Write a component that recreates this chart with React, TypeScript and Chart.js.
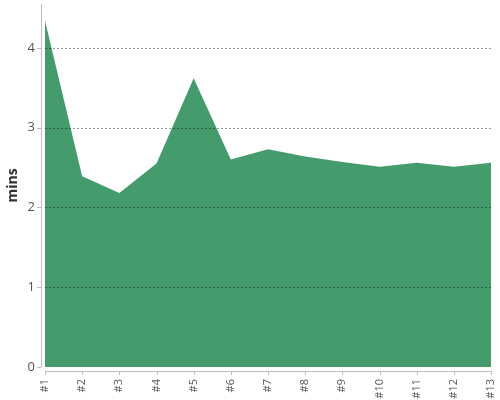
import React, { useEffect, useRef } from "react";
import { Chart, registerables } from "chart.js";

Chart.register(...registerables);

const categories = ["#1", "#2", "#3", "#4", "#5", "#6", "#7", "#8", "#9", "#10", "#11", "#12", "#13"];
const minsValues = [4.34, 2.39, 2.18, 2.55, 3.62, 2.6, 2.73, 2.64, 2.57, 2.51, 2.56, 2.51, 2.56];
const yTickValues = [0, 1, 2, 3, 4];

const FONT = "'Open Sans', sans-serif";
const TEXT = "#555";
const AXIS = "#bbb";

const axisLinesPlugin = {
  id: "axisLines",
  afterDatasetsDraw(chart: any) {
    const { ctx, chartArea } = chart;
    const { left, right } = chartArea;
    const ys = chart.scales.y;
    ctx.save();
    ctx.strokeStyle = "rgba(0,0,0,0.4)";
    ctx.lineWidth = 1;
    ctx.setLineDash([2, 2]);
    ctx.beginPath();
    yTickValues.forEach((v) => {
      if (v === 0) return;
      const py = Math.round(ys.getPixelForValue(v)) + 0.5;
      ctx.moveTo(left, py);
      ctx.lineTo(right, py);
    });
    ctx.stroke();
    ctx.restore();
  },
  afterDraw(chart: any) {
    const { ctx, chartArea } = chart;
    const { left, right, top, bottom } = chartArea;
    const ax = left - 4;
    const ay = bottom + 4;
    ctx.save();
    ctx.strokeStyle = AXIS;
    ctx.lineWidth = 1;
    ctx.beginPath();
    ctx.moveTo(Math.round(ax) + 0.5, top);
    ctx.lineTo(Math.round(ax) + 0.5, bottom);
    ctx.moveTo(left, Math.round(ay) + 0.5);
    ctx.lineTo(right, Math.round(ay) + 0.5);
    const xs = chart.scales.x;
    categories.forEach((_, i) => {
      const px = Math.round(xs.getPixelForValue(i)) + 0.5;
      ctx.moveTo(px, Math.round(ay));
      ctx.lineTo(px, Math.round(ay) + 4);
    });
    const ys = chart.scales.y;
    yTickValues.forEach((v) => {
      const py = Math.round(ys.getPixelForValue(v)) + 0.5;
      ctx.moveTo(Math.round(ax) - 4, py);
      ctx.lineTo(Math.round(ax), py);
    });
    ctx.stroke();
    ctx.restore();
  },
};

export default function App() {
  const ref = useRef<HTMLCanvasElement>(null);
  useEffect(() => {
    document.body.style.margin = "0";
    const chart = new Chart(ref.current!, {
      type: "line",
      data: {
        labels: categories,
        datasets: [
          {
            label: "mins",
            data: minsValues,
            fill: "origin",
            backgroundColor: "rgb(68,155,108)",
            borderColor: "rgb(68,155,108)",
            borderWidth: 0,
            pointRadius: 0,
            tension: 0,
          },
        ],
      },
      options: {
        animation: false,
        responsive: false,
        layout: { padding: { top: 4, right: 9, left: 0, bottom: 0 } },
        plugins: { legend: { display: false }, tooltip: { enabled: false } },
        scales: {
          x: {
            offset: false,
            grid: { display: false, drawTicks: false },
            border: { display: false },
            ticks: {
              minRotation: 90,
              maxRotation: 90,
              autoSkip: false,
              padding: 12,
              color: TEXT,
              font: { family: FONT, size: 11 },
            },
            afterFit(scale: any) {
              scale.height = 33;
              scale.paddingLeft = 0;
              scale.paddingRight = 0;
            },
          },
          y: {
            min: 0,
            max: 4.55,
            border: { display: false },
            grid: { display: false, drawTicks: false },
            ticks: {
              stepSize: 1,
              padding: 10,
              color: TEXT,
              font: { family: FONT, size: 13 },
            },
            afterBuildTicks(axis: any) {
              axis.ticks = yTickValues.map((v) => ({ value: v }));
            },
            title: {
              display: true,
              text: "mins",
              color: "#333",
              font: { family: FONT, size: 14, weight: "bold" },
              padding: { top: 5, bottom: 0 },
            },
            afterFit(scale: any) {
              scale.width = 45;
              scale.paddingTop = 0;
              scale.paddingBottom = 0;
            },
          },
        },
      },
      plugins: [axisLinesPlugin],
    });
    return () => chart.destroy();
  }, []);
  return <canvas ref={ref} width={500} height={400} style={{ display: "block" }} />;
}
